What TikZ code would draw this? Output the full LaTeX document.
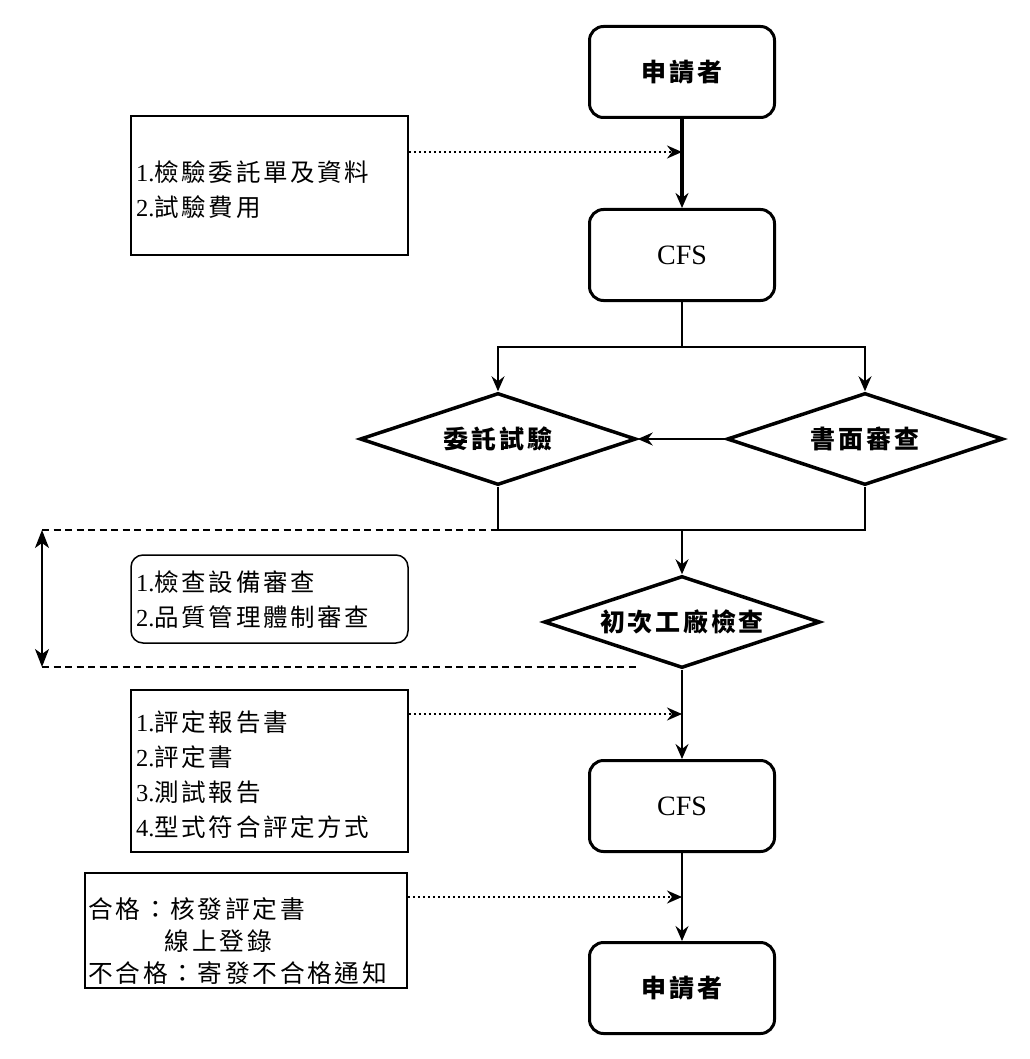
\documentclass[tikz,border=0pt]{standalone}
\usepackage{fontspec}
\setmainfont{Liberation Serif}
\newfontfamily\cjk[LetterSpace=11]{Noto Sans CJK TC}
\usetikzlibrary{arrows.meta,shapes.geometric}
\newcommand\li[2]{#1.{\cjk #2}}
\begin{document}
\begin{tikzpicture}[x=1pt,y=-1pt,
  mainbox/.style={draw,line width=3pt,rounded corners=14pt,minimum width=185pt,minimum height=91pt,inner sep=0pt,font=\fontsize{25}{30}\selectfont},
  dia/.style={draw,line width=3.5pt,diamond,aspect=3,inner sep=0pt,minimum width=276pt,minimum height=92pt,font=\fontsize{25}{30}\selectfont\cjk\bfseries},
  frame/.style={draw,line width=1.5pt,inner sep=0pt},
  listtext/.style={anchor=west,inner sep=0pt,align=left,font=\fontsize{24.5}{35}\selectfont},
  conn/.style={line width=1.5pt},
  tip/.style={-{Stealth[length=15pt,width=13pt,inset=5pt]}},
  dot/.style={line width=2.2pt,dash pattern=on 2pt off 3pt},
  dsh/.style={line width=1.5pt,dash pattern=on 7pt off 4.5pt}]
\useasboundingbox (0,0) rectangle (1029,1059);
% main column
\node[mainbox] (app1) at (682,72) {\cjk\bfseries 申請者};
\node[mainbox] (cfs1) at (682,255) {\fontsize{28}{30}\selectfont CFS};
\node[dia] (comm) at (498,439) {委託試驗};
\node[dia] (rev) at (865,439) {書面審查};
\node[dia] (fact) at (682,622) {初次工廠檢查};
\node[mainbox] (cfs2) at (682,806) {\fontsize{28}{30}\selectfont CFS};
\node[mainbox] (app2) at (682,988) {\cjk\bfseries 申請者};
% side boxes
\node[frame,minimum width=277pt,minimum height=139pt] (b1) at (269.5,185.5) {};
\node[listtext] (b1t) at (136,190) {\li{1}{檢驗委託單及資料}\\\li{2}{試驗費用}};
\node[frame,rounded corners=12pt,minimum width=277pt,minimum height=88pt] (b2) at (269.5,599) {};
\node[listtext] (b2t) at (136,599.5) {\li{1}{檢查設備審查}\\\li{2}{品質管理體制審查}};
\node[frame,minimum width=277pt,minimum height=162pt] (b3) at (269.5,771) {};
\node[listtext] (b3t) at (136,775) {\li{1}{評定報告書}\\\li{2}{評定書}\\\li{3}{測試報告}\\\li{4}{型式符合評定方式}};
\node[frame,minimum width=322pt,minimum height=115pt] (b4) at (246,930.5) {};
\node[listtext,font=\fontsize{24.7}{32}\selectfont\cjk] (b4t) at (88,941) {合格：核發評定書\\\hspace*{3.1em}線上登錄\\不合格：寄發不合格通知};
% coordinates
\coordinate (d1) at (682,152);
\coordinate (d3) at (682,714);
\coordinate (d4) at (682,897);
\coordinate (s1) at (682,347);
\coordinate (m1) at (682,530);
\coordinate (dl1) at (42,530);
\coordinate (dl2) at (42,667);
\coordinate (de2) at (636,667);
% connectors
\draw[line width=4pt,tip] (app1) -- (cfs1);
\draw[dot,tip] (b1.east |- d1) -- (d1);
\draw[conn] (cfs1.south) -- (s1);
\draw[conn,tip] (s1) -| (comm.north);
\draw[conn,tip] (s1) -| (rev.north);
\draw[conn,tip] (rev.west) -- (comm.east);
\draw[conn] (comm.south) -- (comm.south |- m1) -- (rev.south |- m1) -- (rev.south);
\draw[conn,tip] (m1) -- (fact.north);
\draw[dsh] (dl1) -- (comm.south |- m1);
\draw[dsh] (dl2) -- (de2);
\draw[conn,{Stealth[length=18pt,width=14pt,inset=5pt]}-{Stealth[length=18pt,width=14pt,inset=5pt]}] (dl1) -- (dl2);
\draw[conn,tip] (fact.south) -- (cfs2.north);
\draw[dot,tip] (b3.east |- d3) -- (d3);
\draw[conn,tip] (cfs2.south) -- (app2.north);
\draw[dot,tip] (b4.east |- d4) -- (d4);
\end{tikzpicture}
\end{document}
